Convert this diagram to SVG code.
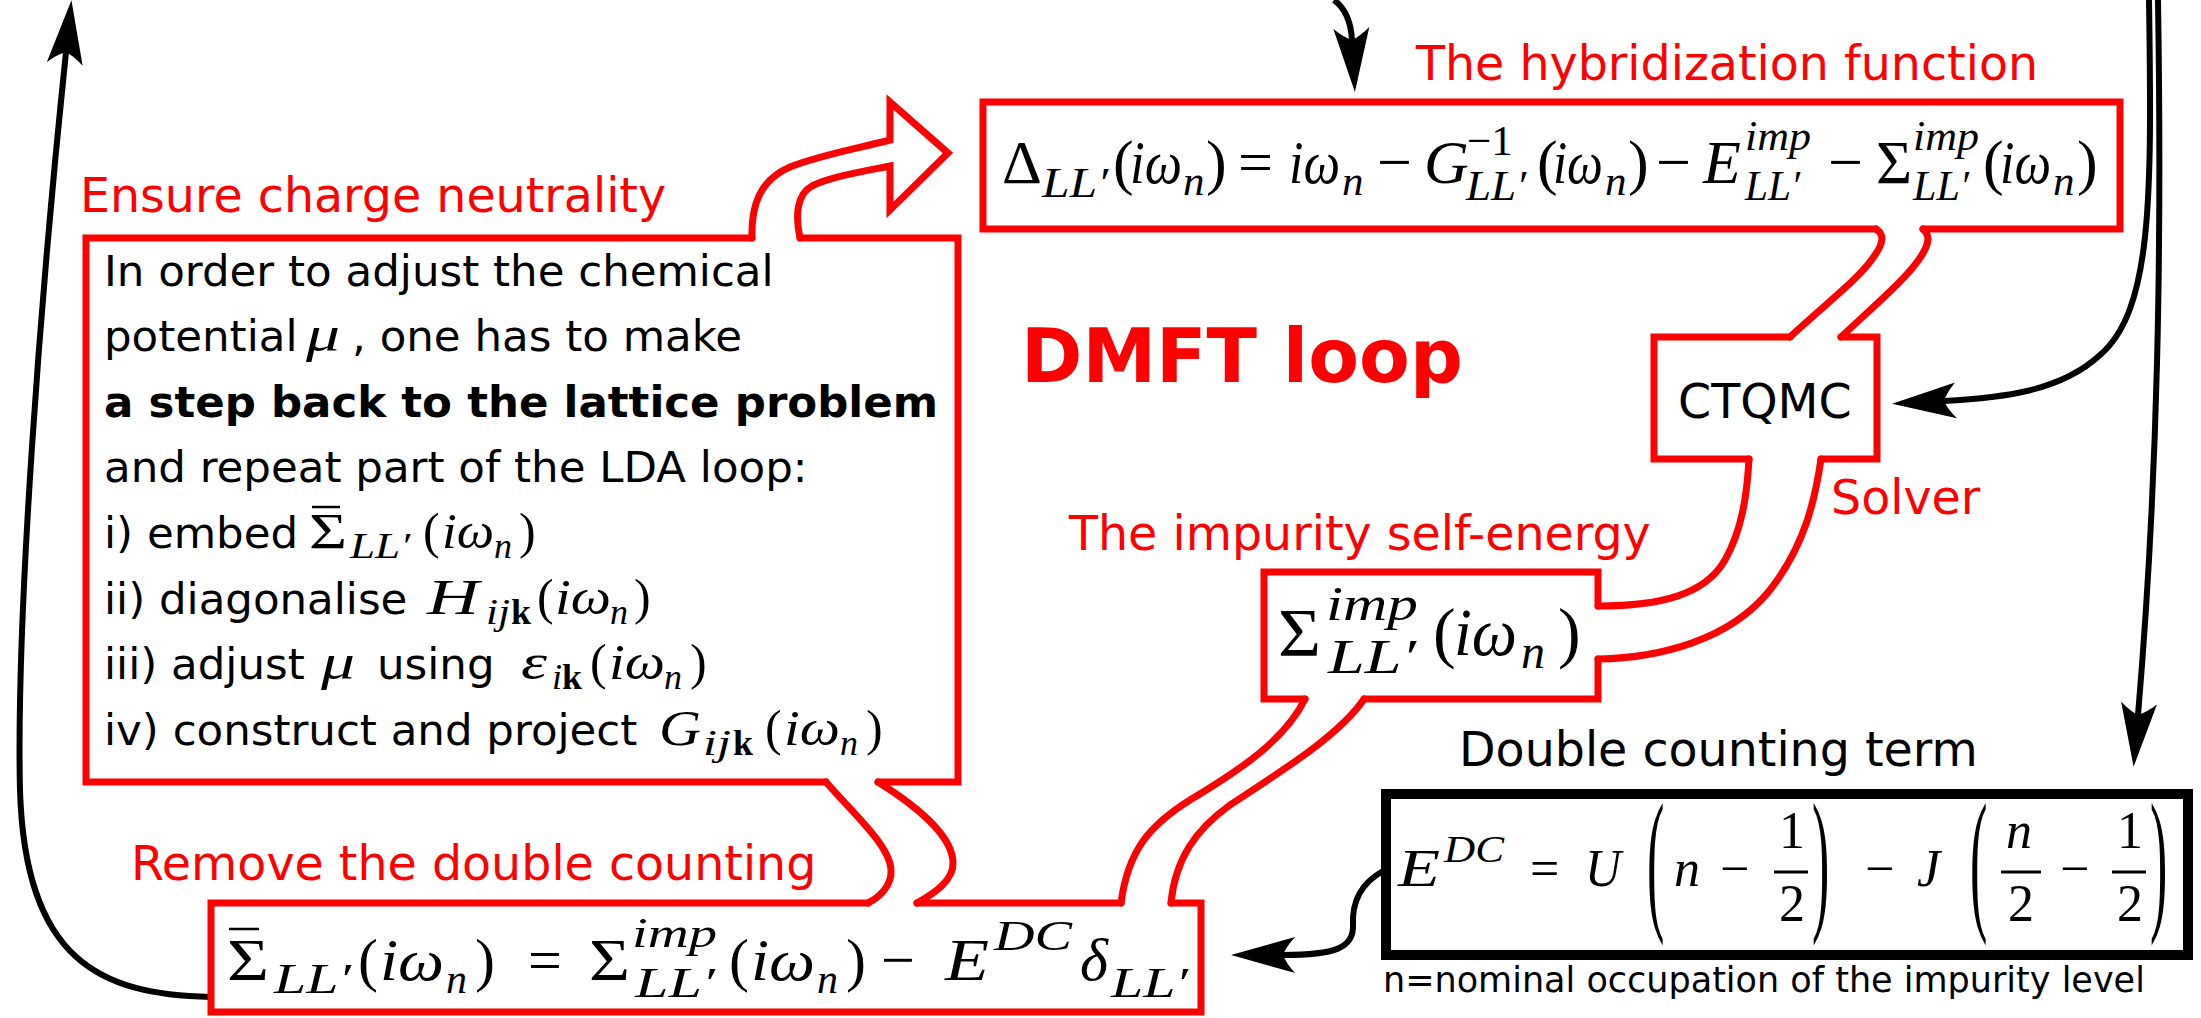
<svg xmlns="http://www.w3.org/2000/svg" width="2201" height="1018" viewBox="0 0 2201 1018">
<defs>
<style>
.lbl{font-family:"DejaVu Sans",sans-serif;font-size:47.5px;fill:#f00}
.blab{font-family:"DejaVu Sans",sans-serif;font-size:47.5px;fill:#000}
.txt{font-family:"DejaVu Sans",sans-serif;font-size:43.5px;fill:#000}
.note{font-family:"DejaVu Sans",sans-serif;font-size:35px;fill:#000}
.m{font-family:"Liberation Serif","DejaVu Serif",serif;font-style:italic;fill:#000}
.u{font-style:normal}
.bk{font-style:normal;font-weight:bold}
.red{fill:none;stroke:#f00;stroke-width:7;stroke-linejoin:miter;stroke-linecap:round}
.blk{fill:none;stroke:#000;stroke-width:6;marker-end:url(#ah)}
.bar{stroke:#000;stroke-width:2.5}
</style>
<marker id="ah" markerUnits="userSpaceOnUse" markerWidth="80" markerHeight="50" refX="0" refY="0" orient="auto" overflow="visible">
<path d="M52,0 L-12,-18 Q-3,-8 0,0 Q-3,8 -12,18 Z" fill="#000"/>
</marker>
</defs>
<rect width="2201" height="1018" fill="#fff"/>

<g id="connectors">
<path class="red" d="M752,238 C751,205 760,180 790,167 C820,155 860,148 890,140 L890,102 L948,153 L890,210 L890,166 C860,172 830,177 812,186 C797,194 795,215 800,238"/>
<path class="red" d="M826,782 C850,810 890,845 891,870 C892,885 880,897 868,903"/>
<path class="red" d="M878,782 C915,805 952,835 953,862 C954,880 935,893 917,903"/>
<path class="red" d="M1121,903 C1128,850 1150,825 1190,800 C1240,770 1285,740 1305,699"/>
<path class="red" d="M1171,903 C1175,860 1195,830 1230,805 C1280,772 1340,735 1364,699"/>
<path class="red" d="M1598,606 C1660,606 1705,595 1725,560 C1742,530 1747,495 1749,459"/>
<path class="red" d="M1598,659 C1660,658 1730,640 1770,590 C1805,545 1815,500 1821,459"/>
<path class="red" d="M1790,337 C1830,300 1860,278 1875,255 C1884,242 1884,234 1876,229"/>
<path class="red" d="M1841,337 C1875,305 1905,280 1920,258 C1930,243 1930,235 1923,229"/>
<path class="blk" d="M211,997 C100,995 25,960 20,790 C16,620 40,300 66,52"/>
<path class="blk" d="M1334,0 C1345,8 1351,22 1352,40"/>
<path class="blk" d="M2149,0 C2152,200 2152,310 2100,355 C2060,392 2000,398 1944,401"/>
<path class="blk" d="M2158,0 C2162,250 2158,480 2138,715"/>
<path class="blk" d="M1383,871 C1358,885 1352,905 1353,925 C1354,948 1335,955 1283,955"/>
<text class="lbl" x="80" y="212">Ensure charge neutrality</text>
<text class="lbl" x="1831" y="514">Solver</text>
<text class="lbl" x="131" y="880">Remove the double counting</text>
</g>

<g id="hybridization">
<path class="red" d="M1876,229 H983 V102 H2120 V229 H1923"/>
<text class="lbl" x="1416" y="80">The hybridization function</text>
<text class="m" font-size="62">
<tspan class="u" x="1002" y="183">Δ</tspan><tspan x="1042" y="197" font-size="43" textLength="66" lengthAdjust="spacingAndGlyphs">LL′</tspan><tspan class="u" x="1113" y="183">(</tspan><tspan x="1130" y="183" textLength="52" lengthAdjust="spacingAndGlyphs">iω</tspan><tspan x="1183" y="195" font-size="43">n</tspan><tspan class="u" x="1206" y="183">)</tspan><tspan class="u" x="1238" y="183">=</tspan><tspan x="1289" y="183" textLength="51" lengthAdjust="spacingAndGlyphs">iω</tspan><tspan x="1342" y="195" font-size="43">n</tspan><tspan class="u" x="1377" y="183">−</tspan><tspan x="1424" y="183">G</tspan><tspan class="u" x="1467" y="155" font-size="43">−1</tspan><tspan x="1466" y="200" font-size="43" textLength="60" lengthAdjust="spacingAndGlyphs">LL′</tspan><tspan class="u" x="1537" y="183">(</tspan><tspan x="1553" y="183" textLength="50" lengthAdjust="spacingAndGlyphs">iω</tspan><tspan x="1605" y="195" font-size="43">n</tspan><tspan class="u" x="1628" y="183">)</tspan><tspan class="u" x="1656" y="183">−</tspan><tspan x="1703" y="183">E</tspan><tspan x="1745" y="150" font-size="43" textLength="66" lengthAdjust="spacingAndGlyphs">imp</tspan><tspan x="1745" y="200" font-size="43" textLength="55" lengthAdjust="spacingAndGlyphs">LL′</tspan><tspan class="u" x="1828" y="183">−</tspan><tspan class="u" x="1876" y="183">Σ</tspan><tspan x="1913" y="150" font-size="43" textLength="66" lengthAdjust="spacingAndGlyphs">imp</tspan><tspan x="1913" y="200" font-size="43" textLength="56" lengthAdjust="spacingAndGlyphs">LL′</tspan><tspan class="u" x="1983" y="183">(</tspan><tspan x="2000" y="183" textLength="51" lengthAdjust="spacingAndGlyphs">iω</tspan><tspan x="2053" y="195" font-size="43">n</tspan><tspan class="u" x="2077" y="183">)</tspan>
</text>
</g>

<g id="dmft-title">
<text x="1021" y="382" font-family="DejaVu Sans, sans-serif" font-weight="bold" font-size="74" fill="#f00">DMFT loop</text>
</g>

<g id="ctqmc">
<path class="red" d="M1749,459 H1654 V337 H1790 M1841,337 H1877 V459 H1821"/>
<text class="blab" x="1678" y="418">CTQMC</text>
</g>

<g id="impurity">
<path class="red" d="M1305,699 H1264 V572 H1598 V606 M1598,659 V699 H1364"/>
<text class="lbl" x="1069" y="550">The impurity self-energy</text>
<text class="m" font-size="68">
<tspan class="u" x="1278" y="655" textLength="43" lengthAdjust="spacingAndGlyphs">Σ</tspan><tspan x="1326" y="620" font-size="48" textLength="92" lengthAdjust="spacingAndGlyphs">imp</tspan><tspan x="1328" y="673" font-size="48" textLength="88" lengthAdjust="spacingAndGlyphs">LL′</tspan><tspan class="u" x="1433" y="655">(</tspan><tspan x="1454" y="655" textLength="63" lengthAdjust="spacingAndGlyphs">iω</tspan><tspan x="1521" y="668" font-size="48">n</tspan><tspan class="u" x="1558" y="655">)</tspan>
</text>
</g>

<g id="lattice">
<path class="red" d="M752,238 H86 V782 H826 M878,782 H958 V238 H800"/>
<text class="txt" x="104" y="286">In order to adjust the chemical</text>
<text class="txt" x="104" y="351">potential</text>
<text class="m" x="306" y="351" font-size="50" textLength="34" lengthAdjust="spacingAndGlyphs">μ</text>
<text class="txt" x="352" y="351">, one has to make</text>
<text class="txt" x="104" y="417" font-weight="bold">a step back to the lattice problem</text>
<text class="txt" x="104" y="482">and repeat part of the LDA loop:</text>
<text class="txt" x="104" y="548">i) embed</text>
<text class="m" font-size="50"><tspan class="u" x="309" y="548" textLength="38" lengthAdjust="spacingAndGlyphs">Σ</tspan><tspan x="350" y="558" font-size="36" textLength="60" lengthAdjust="spacingAndGlyphs">LL′</tspan><tspan class="u" x="423" y="548">(</tspan><tspan x="442" y="548" textLength="52" lengthAdjust="spacingAndGlyphs">iω</tspan><tspan x="494" y="558" font-size="36">n</tspan><tspan class="u" x="519" y="548">)</tspan></text>
<line class="bar" x1="312" y1="507" x2="340" y2="507"/>
<text class="txt" x="104" y="614">ii) diagonalise</text>
<text class="m" font-size="50"><tspan x="427" y="614" textLength="52" lengthAdjust="spacingAndGlyphs">H</tspan><tspan x="486" y="624" font-size="36" textLength="24" lengthAdjust="spacingAndGlyphs">ij</tspan><tspan class="bk" x="511" y="624" font-size="36">k</tspan><tspan class="u" x="537" y="614">(</tspan><tspan x="555" y="614" textLength="56" lengthAdjust="spacingAndGlyphs">iω</tspan><tspan x="610" y="624" font-size="36">n</tspan><tspan class="u" x="634" y="614">)</tspan></text>
<text class="txt" x="104" y="679">iii) adjust</text>
<text class="m" x="321" y="679" font-size="50" textLength="34" lengthAdjust="spacingAndGlyphs">μ</text>
<text class="txt" x="377" y="679">using</text>
<text class="m" font-size="50"><tspan x="521" y="679" textLength="26" lengthAdjust="spacingAndGlyphs">ε</tspan><tspan x="552" y="689" font-size="36">i</tspan><tspan class="bk" x="562" y="689" font-size="36">k</tspan><tspan class="u" x="590" y="679">(</tspan><tspan x="609" y="679" textLength="56" lengthAdjust="spacingAndGlyphs">iω</tspan><tspan x="664" y="689" font-size="36">n</tspan><tspan class="u" x="690" y="679">)</tspan></text>
<text class="txt" x="104" y="745">iv) construct and project</text>
<text class="m" font-size="50"><tspan x="659" y="745" textLength="42" lengthAdjust="spacingAndGlyphs">G</tspan><tspan x="703" y="755" font-size="36" textLength="28" lengthAdjust="spacingAndGlyphs">ij</tspan><tspan class="bk" x="733" y="755" font-size="36">k</tspan><tspan class="u" x="765" y="745">(</tspan><tspan x="784" y="745" textLength="56" lengthAdjust="spacingAndGlyphs">iω</tspan><tspan x="840" y="755" font-size="36">n</tspan><tspan class="u" x="866" y="745">)</tspan></text>
</g>

<g id="double-counting-removal">
<path class="red" d="M868,903 H211 V1012 H1201 V903 H1171 M1121,903 H917"/>
<text class="m" font-size="60">
<tspan class="u" x="227" y="980" textLength="42" lengthAdjust="spacingAndGlyphs">Σ</tspan><tspan x="274" y="993" font-size="42" textLength="77" lengthAdjust="spacingAndGlyphs">LL′</tspan><tspan class="u" x="358" y="980">(</tspan><tspan x="380" y="980" textLength="64" lengthAdjust="spacingAndGlyphs">iω</tspan><tspan x="446" y="993" font-size="42">n</tspan><tspan class="u" x="475" y="980">)</tspan><tspan class="u" x="528" y="980">=</tspan><tspan class="u" x="589" y="980" textLength="41" lengthAdjust="spacingAndGlyphs">Σ</tspan><tspan x="632" y="947" font-size="42" textLength="85" lengthAdjust="spacingAndGlyphs">imp</tspan><tspan x="635" y="997" font-size="42" textLength="80" lengthAdjust="spacingAndGlyphs">LL′</tspan><tspan class="u" x="729" y="980">(</tspan><tspan x="751" y="980" textLength="64" lengthAdjust="spacingAndGlyphs">iω</tspan><tspan x="817" y="993" font-size="42">n</tspan><tspan class="u" x="846" y="980">)</tspan><tspan class="u" x="881" y="980">−</tspan><tspan x="945" y="980" textLength="44" lengthAdjust="spacingAndGlyphs">E</tspan><tspan x="994" y="950" font-size="42" textLength="78" lengthAdjust="spacingAndGlyphs">DC</tspan><tspan x="1080" y="980">δ</tspan><tspan x="1111" y="997" font-size="42" textLength="77" lengthAdjust="spacingAndGlyphs">LL′</tspan>
</text>
<line class="bar" x1="229" y1="929" x2="259" y2="929"/>
</g>

<g id="double-counting-term">
<rect x="1386" y="794" width="802" height="161" fill="none" stroke="#000" stroke-width="10"/>
<text class="blab" x="1459" y="766">Double counting term</text>
<text class="m" font-size="52">
<tspan x="1398" y="886" textLength="42" lengthAdjust="spacingAndGlyphs">E</tspan><tspan x="1444" y="862" font-size="37" textLength="60" lengthAdjust="spacingAndGlyphs">DC</tspan><tspan class="u" x="1530" y="886">=</tspan><tspan x="1585" y="886" textLength="36" lengthAdjust="spacingAndGlyphs">U</tspan><tspan x="1674" y="886">n</tspan><tspan class="u" x="1720" y="886">−</tspan><tspan class="u" x="1779" y="848">1</tspan><tspan class="u" x="1779" y="921">2</tspan><tspan class="u" x="1865" y="886">−</tspan><tspan x="1917" y="886">J</tspan><tspan x="2006" y="848">n</tspan><tspan class="u" x="2008" y="921">2</tspan><tspan class="u" x="2060" y="886">−</tspan><tspan class="u" x="2117" y="848">1</tspan><tspan class="u" x="2117" y="921">2</tspan>
</text>
<text class="m u" font-size="52" transform="translate(1647,912) scale(1,3)">(</text>
<text class="m u" font-size="52" transform="translate(1812,912) scale(1,3)">)</text>
<text class="m u" font-size="52" transform="translate(1970,912) scale(1,3)">(</text>
<text class="m u" font-size="52" transform="translate(2150,912) scale(1,3)">)</text>
<path d="M1774,872 H1808 M2001,872 H2041 M2112,872 H2146" stroke="#000" stroke-width="3"/>
<text class="note" x="1383" y="992">n=nominal occupation of the impurity level</text>
</g>
</svg>
